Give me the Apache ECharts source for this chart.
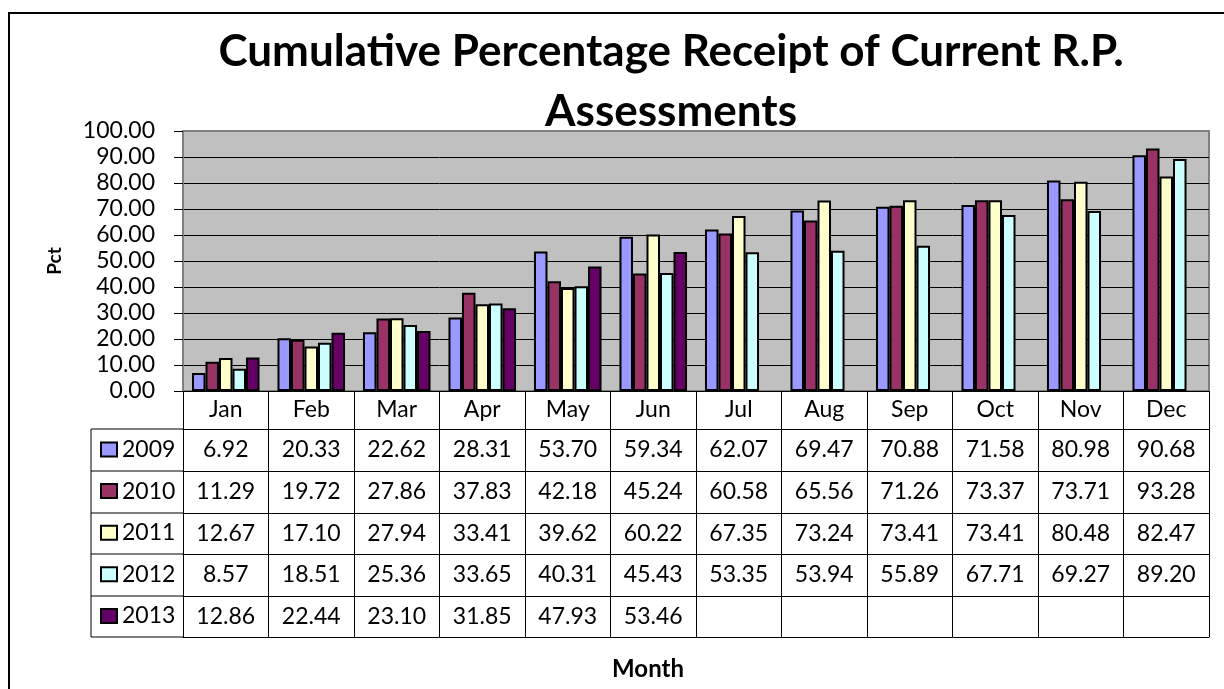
<!DOCTYPE html>
<html>
<head>
<meta charset="utf-8">
<script src="https://cdn.jsdelivr.net/npm/echarts@6/dist/echarts.min.js"></script>
<style>
  html, body { margin: 0; padding: 0; background: #fff; }
  #chart { width: 1224px; height: 689px; }
</style>
</head>
<body>
<div id="chart"></div>
<script>
const months = ['Jan', 'Feb', 'Mar', 'Apr', 'May', 'Jun', 'Jul', 'Aug', 'Sep', 'Oct', 'Nov', 'Dec'];
const years = ['2009', '2010', '2011', '2012', '2013'];
const pct2009 = [6.92, 20.33, 22.62, 28.31, 53.70, 59.34, 62.07, 69.47, 70.88, 71.58, 80.98, 90.68];
const pct2010 = [11.29, 19.72, 27.86, 37.83, 42.18, 45.24, 60.58, 65.56, 71.26, 73.37, 73.71, 93.28];
const pct2011 = [12.67, 17.10, 27.94, 33.41, 39.62, 60.22, 67.35, 73.24, 73.41, 73.41, 80.48, 82.47];
const pct2012 = [8.57, 18.51, 25.36, 33.65, 40.31, 45.43, 53.35, 53.94, 55.89, 67.71, 69.27, 89.20];
const pct2013 = [12.86, 22.44, 23.10, 31.85, 47.93, 53.46, null, null, null, null, null, null];
const yTicks = [0, 100, 10];
const colors = ['#9999FF', '#993366', '#FFFFCC', '#CCFFFF', '#660066'];

const allRows = [pct2009, pct2010, pct2011, pct2012, pct2013];
const font = 'Lato, "DejaVu Sans", sans-serif';
const fs = 23;

// layout
const plotLeft = 183, plotTop = 131, plotBottom = 391, plotRight = 1209;
const tableLeft = 91;
const rowEdges = [38, 80, 122, 163, 205, 246]; // px below the plot bottom

const xAxes = [{
  type: 'category',
  data: months,
  position: 'bottom',
  axisLine: { lineStyle: { color: '#000', width: 1 } },
  axisTick: { show: true, length: rowEdges[5], lineStyle: { color: '#000', width: 1 } },
  axisLabel: { interval: 0, margin: rowEdges[0] / 2 - fs / 2, fontSize: fs, color: '#000', fontFamily: font }
}];
allRows.forEach(function (row, i) {
  xAxes.push({
    type: 'category',
    data: months,
    position: 'bottom',
    offset: rowEdges[i],
    axisLine: { lineStyle: { color: '#000', width: 1 } },
    axisTick: { show: false },
    axisLabel: {
      interval: 0,
      margin: (rowEdges[i + 1] - rowEdges[i]) / 2 - fs / 2,
      fontSize: fs, color: '#000', fontFamily: font,
      formatter: function (v, idx) { return row[idx] == null ? '' : row[idx].toFixed(2); }
    }
  });
});
xAxes.push({
  type: 'category',
  data: months,
  position: 'bottom',
  offset: rowEdges[5],
  axisLine: { lineStyle: { color: '#000', width: 1 } },
  axisTick: { show: false },
  axisLabel: { show: false }
});

// left column of the data table (legend keys)
const tableLines = [{
  type: 'line',
  shape: { x1: tableLeft, y1: plotBottom + rowEdges[0], x2: tableLeft, y2: plotBottom + rowEdges[5] },
  style: { stroke: '#000', lineWidth: 1 }
}];
rowEdges.forEach(function (e) {
  tableLines.push({
    type: 'line',
    shape: { x1: tableLeft, y1: plotBottom + e, x2: plotLeft, y2: plotBottom + e },
    style: { stroke: '#000', lineWidth: 1 }
  });
});

const option = {
  animation: false,
  backgroundColor: '#fff',
  color: colors,
  title: [{
    text: 'Cumulative Percentage Receipt of Current R.P.\nAssessments',
    left: 666,
    top: 17,
    textAlign: 'center',
    textStyle: { fontFamily: font, fontWeight: 'bold', fontSize: 44, lineHeight: 60, color: '#000' }
  }, {
    text: 'Month',
    left: 643,
    top: 652,
    textAlign: 'center',
    textStyle: { fontFamily: font, fontWeight: 'bold', fontSize: 24, color: '#000' }
  }],
  legend: {
    data: years,
    orient: 'vertical',
    left: 100,
    top: plotBottom + rowEdges[0] + 9,
    padding: 0,
    itemWidth: 16,
    itemHeight: 14,
    itemGap: 41.6 - fs,
    icon: 'rect',
    selectedMode: false,
    itemStyle: { borderColor: '#000', borderWidth: 2 },
    textStyle: { fontFamily: font, fontSize: fs, lineHeight: fs, color: '#000' }
  },
  grid: {
    left: plotLeft,
    top: plotTop,
    right: 1224 - plotRight,
    bottom: 689 - plotBottom,
    show: true,
    backgroundColor: '#C0C0C0',
    borderColor: '#808080',
    borderWidth: 2
  },
  xAxis: xAxes,
  yAxis: {
    type: 'value',
    min: yTicks[0],
    max: yTicks[1],
    interval: yTicks[2],
    name: 'Pct',
    nameLocation: 'middle',
    nameGap: 119,
    nameTextStyle: { fontFamily: font, fontWeight: 'bold', fontSize: 19, color: '#000' },
    axisLine: { show: true, lineStyle: { color: '#808080', width: 2 } },
    axisTick: { show: true, length: 9, lineStyle: { color: '#000' } },
    axisLabel: {
      margin: 28, fontSize: fs, color: '#000', fontFamily: font,
      formatter: function (v) { return v.toFixed(2); }
    },
    splitLine: { show: true, showMaxLine: false, showMinLine: false, lineStyle: { color: '#000', width: 1 } }
  },
  series: years.map(function (y, i) {
    return {
      name: y,
      type: 'bar',
      xAxisIndex: 0,
      data: allRows[i],
      barGap: '0%',
      barCategoryGap: '21%',
      itemStyle: { color: colors[i], borderColor: '#000', borderWidth: 2 }
    };
  }),
  graphic: [{
    type: 'rect',
    shape: { x: 9, y: 13, width: 1240, height: 700 },
    style: { fill: 'none', stroke: '#000', lineWidth: 2 },
    z: 0
  }].concat(tableLines)
};

const chart = echarts.init(document.getElementById('chart'));
chart.setOption(option);
</script>
</body>
</html>
